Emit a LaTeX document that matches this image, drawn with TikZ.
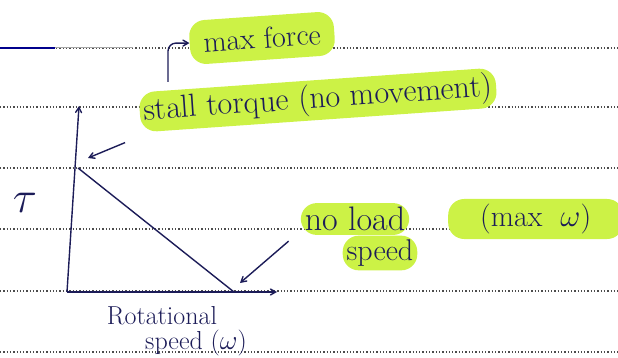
\documentclass[tikz,border=0pt]{standalone}
\usepackage{graphicx}
\usepackage{tikz}
\usetikzlibrary{arrows,shapes}
\definecolor{ink}{RGB}{28,28,88}
\definecolor{hilite}{RGB}{204,242,70}
\tikzstyle{ruled}=[dotted, line width=1.3pt, black!70]
\tikzstyle{hand}=[font=\fontsize{30}{34}\selectfont, text=ink]
\tikzstyle{marker}=[hand, fill=hilite, rounded corners=16pt, inner sep=4pt]
\tikzstyle{pen}=[->, >=angle 60, line width=1.4pt, draw=ink]

\begin{document}
\begin{tikzpicture}[x=1pt,y=-1pt]
\useasboundingbox (0,0) rectangle (618,358);
% ruled paper
\foreach \y in {48,107,168,229,291,352}
  \draw[ruled] (0,\y) -- (618,\y);
\draw[line width=2.2pt, blue!55!black] (0,48) -- (55,48);
\draw[line width=1pt, black!35] (55,48) -- (133,48);

% graph
\coordinate (O) at (67,292);
\coordinate (Ytop) at (79,106);
\coordinate (Xend) at (277,292);
\coordinate (S) at (78,168);
\coordinate (N) at (234,292);
\draw[pen] (O) -- (Ytop);
\draw[pen] (O) -- (Xend);
\draw[line width=1.4pt, ink] (S) -- (N);

\node[hand] (tau) at (25,203) {\scalebox{1.8}{$\tau$}};
\node[hand, font=\fontsize{26}{28}\selectfont, inner sep=1pt] (rot) at (162,316) {Rotational};
\node[hand, font=\fontsize{26}{28}\selectfont, inner sep=1pt] (spd) at (196,343) {speed (\scalebox{1.1}{$\omega$})};

% labels
\node[marker, rotate=4, minimum width=145pt, minimum height=44pt] (maxf) at (262,38) {max force};
\node[marker, rotate=4, font=\fontsize{32}{36}\selectfont] (stall) at (318,100) {stall torque (no movement)};
\node[marker, font=\fontsize{34}{38}\selectfont] (noload) at (355,219) {no load};
\node[marker] (speedlbl) at (380,253) {speed};
\node[marker, minimum width=175pt, minimum height=40pt, anchor=west] (maxw) at (448,219) {(max \ \scalebox{1.25}{$\omega$})};

\coordinate (stalltip) at (88,158);
\coordinate (mfstart) at (168,82);
\coordinate (nltip) at (240,283);
\draw[pen] ([shift={(-16,10)}]stall.south west) -- (stalltip);
\draw[pen, rounded corners=8pt] (mfstart) |- (maxf.west);
\draw[pen] ([shift={(-12,6)}]noload.south west) -- (nltip);
\end{tikzpicture}
\end{document}
